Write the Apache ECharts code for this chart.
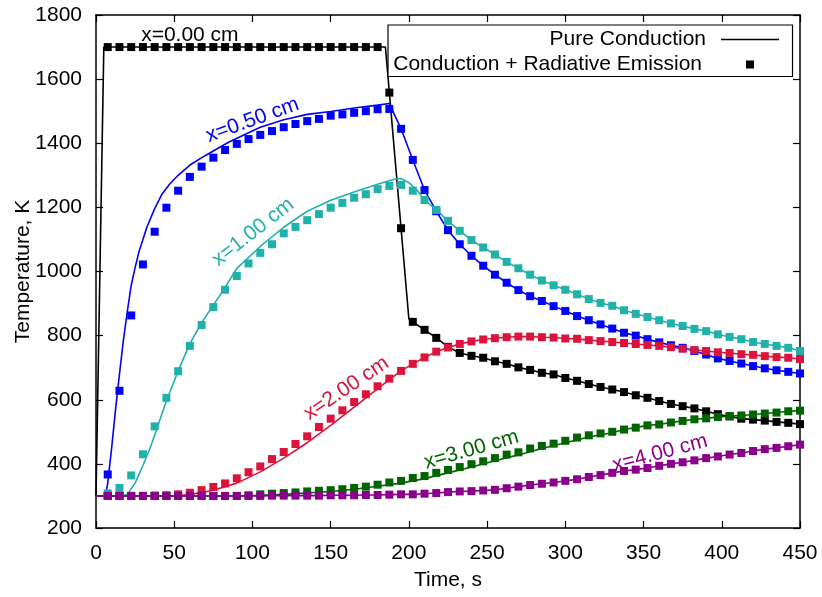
<!DOCTYPE html>
<html>
<head>
<meta charset="utf-8">
<script src="https://cdn.jsdelivr.net/npm/echarts@6/dist/echarts.min.js"></script>
<style>html,body{margin:0;padding:0;background:#fff;}#c{width:822px;height:597px;}</style>
</head>
<body>
<div id="c"></div>
<script>
// marker times (s)
const times = [7.5,15,22.5,30,37.5,45,52.5,60,67.5,75,82.5,90,97.5,105,112.5,120,127.5,135,142.5,150,
  157.5,165,172.5,180,187.5,195,202.5,210,217.5,225,232.5,240,247.5,255,262.5,270,277.5,285,292.5,300,
  307.5,315,322.5,330,337.5,345,352.5,360,367.5,375,382.5,390,397.5,405,412.5,420,427.5,435,442.5,450];

// Conduction + Radiative Emission (markers), K
const rad_x000 = [1700,1700,1700,1700,1700,1700,1700,1700,1700,1700,1700,1700,1700,1700,1700,1700,1700,1700,1700,1700,
  1700,1700,1700,1700,1558,1135,843,818,793,765,746,737,731,720,712,701,693,684,679,668,
  659,649,640,632,624,614,606,596,587,580,573,564,555,548,541,538,535,531,528,524];
const rad_x050 = [367,628,863,1022,1124,1199,1252,1295,1327,1355,1379,1398,1413,1426,1438,1450,1460,1469,1476,1486,
  1490,1495,1500,1506,1507,1445,1348,1254,1188,1129,1085,1049,1018,990,965,942,923,908,892,877,
  861,848,835,822,809,800,789,779,770,762,752,741,729,721,713,705,698,692,687,682];
const rad_x100 = [308,325,364,430,517,606,689,768,833,889,943,986,1025,1058,1085,1119,1139,1160,1179,1199,
  1214,1230,1241,1257,1267,1270,1252,1223,1192,1158,1127,1098,1075,1053,1030,1010,990,972,957,943,
  929,914,902,893,879,868,858,848,838,830,821,814,804,796,789,780,774,768,762,752];
const rad_x200 = [300,300,300,300,301,302,305,310,318,328,339,355,374,392,415,437,462,486,515,541,
  567,593,617,642,666,690,712,732,750,763,774,782,788,792,795,797,797,795,794,791,
  790,786,783,780,777,774,771,768,764,759,755,752,748,746,742,740,736,733,731,727];
const rad_x300 = [300,300,300,300,300,300,300,300,300,300,300,300,302,305,307,309,311,314,316,318,
  321,325,329,335,342,347,356,362,372,381,390,399,408,418,429,436,448,456,463,472,
  482,489,495,500,507,513,520,523,529,534,539,542,546,549,551,554,557,560,564,566];
const rad_x400 = [300,300,300,300,300,300,300,300,300,300,300,300,300,300,301,301,301,301,301,302,
  302,302,303,303,304,305,305,307,309,312,314,315,317,319,324,329,334,338,342,347,
  352,359,365,372,378,382,387,394,400,405,411,418,423,429,434,440,446,450,455,460];

// Pure Conduction (lines): leading part [t, K]; afterwards the line runs through the markers
const cond_x000_head = [[0,300],[5,1700],[185,1700],[200,852]];
const cond_x050_head = [[0,300],[6,300],[7.5,340],[10,450],[12.5,570],[15,680],[17.5,785],[20,875],[22.5,957],[25,1012],
  [27.5,1062],[30,1100],[32.5,1138],[37.5,1196],[42,1240],[47,1272],[52.5,1300],[60,1332],[70,1362],[85,1404],[105,1450],
  [120,1473],[135,1490],[150,1499],[165,1510],[180,1519],[187.5,1524]];
const cond_x100_head = [[0,300],[17,300],[20,305],[25,340],[30,395],[34.5,448],[37.5,490],[45,596],[52.5,690],[60,775],
  [67.5,840],[75,895],[82.5,950],[90,1010],[105,1078],[120,1138],[135,1188],[150,1222],[165,1248],[180,1272],
  [190,1287],[195,1290],[200,1277],[205,1255]];
const cond_x200_head = [[0,300],[50,300],[60,304],[75,318],[90,340],[105,375],[120,418],[135,466],[150,520],[165,577],
  [180,634],[187.5,663]];
const cond_x300_head = [[0,300],[90,300],[105,302],[120,305],[135,309],[150,314],[165,321],[180,330],[195,340],[210,354],
  [225,372],[240,390],[255,410],[270,428],[285,448],[300,466],[315,484],[330,497]];
const cond_x400_head = [[0,300]];
// index in times where each line joins its markers
const joinIndex = {x000: 26, x050: 25, x100: 27, x200: 25, x300: 44, x400: 0};

const xTicks = {min: 0, max: 450, interval: 50};
const yTicks = {min: 200, max: 1800, interval: 200};

const curveLabels = [
  {text: 'x=0.00 cm', t: 60, T: 1738, rot: 0,    color: '#000000'},
  {text: 'x=0.50 cm', t: 100, T: 1472, rot: 20,  color: '#0000ff'},
  {text: 'x=1.00 cm', t: 100.4, T: 1123, rot: 38, color: '#20b2aa'},
  {text: 'x=2.00 cm', t: 160, T: 635, rot: 34,  color: '#dc143c'},
  {text: 'x=3.00 cm', t: 240, T: 444, rot: 16,  color: '#006400'},
  {text: 'x=4.00 cm', t: 360.5, T: 433, rot: 15, color: '#8b008b'}
];

const FONT = 'Liberation Sans, Arial, Helvetica, sans-serif';
const curves = [
  {key: 'x000', color: '#000000', rad: rad_x000, head: cond_x000_head},
  {key: 'x050', color: '#0000ff', rad: rad_x050, head: cond_x050_head},
  {key: 'x100', color: '#20b2aa', rad: rad_x100, head: cond_x100_head},
  {key: 'x200', color: '#dc143c', rad: rad_x200, head: cond_x200_head},
  {key: 'x300', color: '#006400', rad: rad_x300, head: cond_x300_head},
  {key: 'x400', color: '#8b008b', rad: rad_x400, head: cond_x400_head}
];

const series = [];
curves.forEach((c, ci) => {
  const j = joinIndex[c.key];
  const lineData = c.head.concat(times.slice(j).map((t, i) => [t, c.rad[j + i]]));
  series.push({
    name: ci === 0 ? 'Pure Conduction' : 'cond ' + c.key,
    type: 'line', data: lineData, symbol: 'none', showSymbol: false,
    lineStyle: {color: c.color, width: 1.6}, itemStyle: {color: c.color},
    z: 2, silent: true
  });
  series.push({
    name: ci === 0 ? 'Conduction + Radiative Emission' : 'rad ' + c.key,
    type: 'scatter', data: times.map((t, i) => [t, c.rad[i]]),
    symbol: 'rect', symbolSize: 8, itemStyle: {color: c.color, opacity: 1},
    z: 3, silent: true
  });
});

const axisCommon = {
  axisLine: {show: true, onZero: false, lineStyle: {color: '#000', width: 1.5}},
  axisTick: {show: true, inside: true, length: 7, lineStyle: {color: '#000', width: 1.2}},
  splitLine: {show: false}
};
const plainNum = v => String(v);

const chart = echarts.init(document.getElementById('c'), null, {renderer: 'canvas'});
const option = {
  animation: false,
  backgroundColor: '#ffffff',
  grid: {left: 96, right: 22, top: 15, bottom: 69, containLabel: false, outerBoundsMode: 'none'},
  xAxis: [
    Object.assign({type: 'value', position: 'bottom', min: xTicks.min, max: xTicks.max, interval: xTicks.interval,
      name: 'Time, s', nameLocation: 'middle', nameGap: 42, nameMoveOverlap: false,
      nameTextStyle: {fontFamily: FONT, fontSize: 21, color: '#000'},
      axisLabel: {fontFamily: FONT, fontSize: 21, color: '#000', margin: 15, formatter: plainNum}}, axisCommon),
    Object.assign({type: 'value', position: 'top', min: xTicks.min, max: xTicks.max, interval: xTicks.interval,
      axisLabel: {show: false}}, axisCommon)
  ],
  yAxis: [
    Object.assign({type: 'value', position: 'left', min: yTicks.min, max: yTicks.max, interval: yTicks.interval,
      name: 'Temperature, K', nameLocation: 'middle', nameGap: 62, nameRotate: 90, nameMoveOverlap: false,
      nameTextStyle: {fontFamily: FONT, fontSize: 21, color: '#000'},
      axisLabel: {fontFamily: FONT, fontSize: 21, color: '#000', margin: 14, formatter: plainNum}}, axisCommon),
    Object.assign({type: 'value', position: 'right', min: yTicks.min, max: yTicks.max, interval: yTicks.interval,
      axisLabel: {show: false}}, axisCommon)
  ],
  legend: [
    {data: [{name: 'Pure Conduction', icon: 'rect'}], right: 43, top: 29, align: 'right', orient: 'vertical',
     itemWidth: 58, itemHeight: 1.6, z: 20, padding: 0, selectedMode: false,
     itemStyle: {color: '#000'},
     textStyle: {fontFamily: FONT, fontSize: 21, color: '#000', padding: [0, 10, 0, 0]}},
    {data: [{name: 'Conduction + Radiative Emission', icon: 'rect'}], right: 68, top: 54, align: 'right', orient: 'vertical',
     itemWidth: 8, itemHeight: 8, z: 20, padding: 0, selectedMode: false,
     textStyle: {fontFamily: FONT, fontSize: 21, color: '#000', padding: [0, 39, 0, 0]}}
  ],
  series: series
};
chart.setOption(option);

// legend box and curve labels
const graphics = [{
  type: 'rect', z: 15, shape: {x: 388, y: 25, width: 404.5, height: 51.5},
  style: {fill: '#fff', stroke: '#000', lineWidth: 1.2}
}];
curveLabels.forEach(l => {
  const p = chart.convertToPixel({xAxisIndex: 0, yAxisIndex: 0}, [l.t, l.T]);
  graphics.push({
    type: 'text', x: p[0], y: p[1], rotation: l.rot * Math.PI / 180, z: 10,
    style: {text: l.text, fill: l.color, font: '21px ' + FONT, align: 'center', verticalAlign: 'middle'}
  });
});
chart.setOption({graphic: graphics});
</script>
</body>
</html>
